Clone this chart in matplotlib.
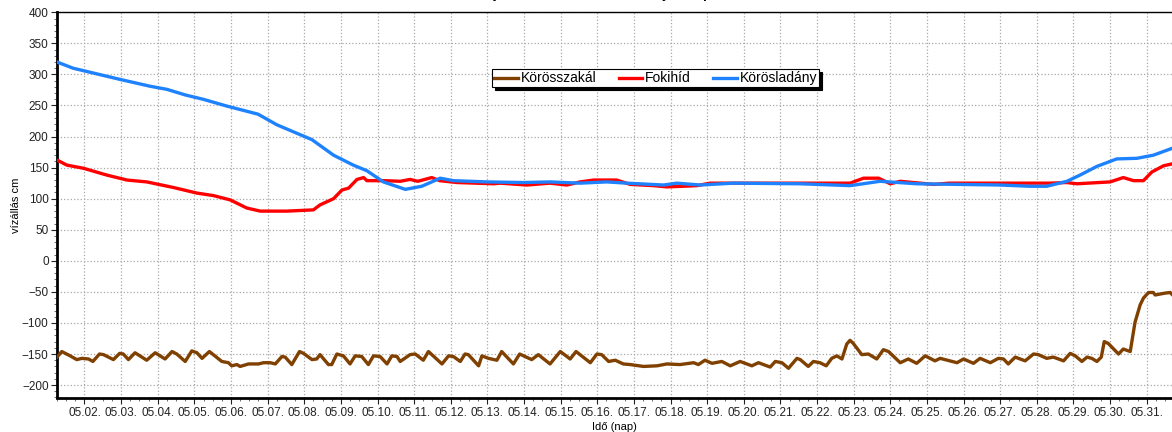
#!/usr/bin/env python3
"""Körös water levels, May: three gauges on a shared day axis."""

import matplotlib

matplotlib.use("Agg")
import matplotlib.pyplot as plt  # noqa: E402
from matplotlib.ticker import MultipleLocator  # noqa: E402

plt.rcParams["font.family"] = ["Liberation Sans", "DejaVu Sans"]

# time in days of May (1.0 = 05.01. 00:00)
szakal_t = [
    1.25, 1.38, 1.61, 1.79, 1.93, 2.11, 2.23, 2.41, 2.52, 2.79, 2.96, 3.06, 3.20, 3.38,
    3.70, 3.93, 4.20, 4.39, 4.52, 4.75, 4.93, 5.07, 5.21, 5.41, 5.75, 5.93, 6.02, 6.16,
    6.25, 6.48, 6.75, 6.89, 7.07, 7.21, 7.39, 7.48, 7.66, 7.87, 7.98, 8.21, 8.34, 8.43,
    8.66, 8.75, 8.89, 9.07, 9.25, 9.39, 9.57, 9.75, 9.89, 10.07, 10.26, 10.39, 10.53,
    10.62, 10.89, 11.03, 11.25, 11.39, 11.76, 11.94, 12.07, 12.26, 12.39, 12.48, 12.76,
    12.85, 13.03, 13.26, 13.39, 13.71, 13.88, 14.21, 14.39, 14.71, 14.99, 15.26, 15.42,
    15.81, 15.99, 16.12, 16.31, 16.49, 16.71, 16.90, 17.26, 17.63, 17.90, 18.26, 18.63,
    18.76, 18.94, 19.13, 19.40, 19.63, 19.90, 20.22, 20.40, 20.72, 20.86, 21.04, 21.22,
    21.45, 21.54, 21.76, 21.90, 22.08, 22.25, 22.40, 22.54, 22.68, 22.81, 22.90, 22.99,
    23.22, 23.40, 23.63, 23.81, 23.95, 24.27, 24.49, 24.72, 24.95, 25.22, 25.36, 25.82,
    26.00, 26.27, 26.45, 26.73, 26.95, 27.09, 27.22, 27.41, 27.68, 27.91, 28.04, 28.27,
    28.45, 28.73, 28.91, 29.05, 29.23, 29.37, 29.50, 29.64, 29.76, 29.84, 29.95, 30.23,
    30.36, 30.55, 30.68, 30.82, 30.91, 31.05, 31.18, 31.23, 31.50, 31.64, 31.69,
]
szakal_cm = [
    -155, -146, -153, -159, -157, -158, -162, -150, -151, -159, -149, -150, -159, -148,
    -160, -148, -158, -146, -150, -162, -145, -148, -157, -146, -162, -164, -169, -167,
    -170, -166, -166, -164, -164, -166, -154, -155, -167, -146, -149, -159, -158, -151,
    -167, -167, -150, -153, -166, -153, -154, -167, -153, -154, -166, -153, -154,
    -162, -151, -150, -160, -146, -166, -153, -154, -162, -150, -151, -169,
    -153, -157, -160, -146, -166, -150, -159, -151, -166, -146, -158, -146,
    -164, -150, -151, -162, -160, -166, -167, -170, -169, -166, -167, -164,
    -167, -160, -165, -162, -169, -162, -169, -164, -171, -162, -164, -173,
    -157, -159, -170, -162, -164, -169, -157, -153, -158, -134, -128, -133,
    -151, -150, -158, -143, -146, -164, -158, -165, -153, -161, -157, -164,
    -158, -165, -157, -164, -157, -158, -166, -155, -161, -150, -151, -157,
    -155, -161, -149, -153, -162, -155, -157, -162, -155, -130, -133, -150,
    -142, -146, -99, -71, -60, -51, -51, -55, -52, -51, -54,
]

fokihid_t = [
    1.25, 1.29, 1.52, 1.97, 2.61, 3.16, 3.70, 4.43, 5.07, 5.52, 5.98, 6.43, 6.80, 7.53,
    8.25, 8.43, 8.80, 9.03, 9.21, 9.44, 9.62, 9.71, 10.20, 10.62, 10.89, 11.10, 11.48,
    11.70, 12.17, 13.17, 13.35, 14.08, 14.71, 15.17, 15.53, 15.90, 16.53, 16.90, 17.53,
    17.90, 18.35, 18.72, 19.08, 21.54, 22.90, 23.27, 23.68, 24.00, 24.27, 24.63, 25.18,
    25.60, 28.36, 28.82, 29.09, 30.00, 30.36, 30.64, 30.91, 31.14, 31.46, 31.69,
]
fokihid_cm = [
    162, 161, 154, 149, 138, 130, 127, 118, 109, 105, 98, 85, 80, 80,
    82, 90, 100, 114, 117, 131, 134, 129, 129, 128, 131, 128, 134,
    129, 126, 124, 125, 122, 125, 122, 127, 130, 130, 123, 121,
    119, 120, 121, 125, 125, 125, 133, 133, 124, 128, 126, 123,
    125, 125, 126, 124, 127, 134, 129, 129, 143, 153, 156,
]

ladany_t = [
    1.25, 1.69, 2.97, 3.79, 4.25, 4.75, 5.24, 5.89, 6.74, 7.25, 8.21, 8.80, 9.34, 9.71,
    10.16, 10.76, 11.21, 11.71, 12.07, 12.99, 13.98, 14.71, 15.53, 16.26, 16.81, 17.81,
    18.17, 18.81, 19.72, 21.54, 22.90, 23.72, 24.72, 27.00, 27.80, 28.27, 28.82, 29.18,
    29.64, 30.18, 30.73, 31.18, 31.69,
]
ladany_cm = [
    320, 310, 292, 281, 276, 267, 260, 249, 236, 219, 195, 170, 154, 145,
    127, 115, 120, 133, 129, 127, 126, 127, 125, 127, 125, 122,
    125, 122, 125, 124, 121, 128, 124, 122, 120, 120, 128, 138,
    152, 164, 165, 170, 181,
]

tick_days = list(range(2, 32))
tick_labels = [f"05.{d:02d}." for d in tick_days]

fig = plt.figure(figsize=(11.72, 4.32), dpi=100)
ax = fig.add_axes((57 / 1172, 1 - 397.5 / 432, 1 - 57 / 1172, (397.5 - 12.3) / 432))

ax.plot(szakal_t, szakal_cm, color="#7f4000", lw=2.4, label="Körösszakál", zorder=3)
ax.plot(fokihid_t, fokihid_cm, color="#ff0000", lw=2.4, label="Fokihíd", zorder=3)
ax.plot(ladany_t, ladany_cm, color="#1e82ff", lw=2.4, label="Körösladány", zorder=4)

ax.set_xlim(1.25, 31.69)
ax.set_ylim(-220, 400)
ax.set_xticks(tick_days)
ax.set_xticklabels(tick_labels)
ax.xaxis.set_minor_locator(MultipleLocator(0.25))
ax.yaxis.set_major_locator(MultipleLocator(50))
ax.yaxis.set_minor_locator(MultipleLocator(10))
ax.tick_params(axis="both", which="major", direction="out", length=4, width=0.8,
               labelsize=8.5, colors="#222222", pad=2)
ax.tick_params(axis="both", which="minor", direction="out", length=2.5, width=0.6, colors="#555555")
ax.tick_params(axis="x", which="major", pad=3)

ax.grid(True, which="major", linestyle=":", color="#a8a8a8", linewidth=0.9)
for side in ("left", "bottom"):
    ax.spines[side].set_linewidth(2.0)
ax.spines["top"].set_linewidth(1.0)
ax.spines["right"].set_visible(False)

ax.set_ylabel("vízállás cm", fontsize=8, labelpad=1)
ax.set_xlabel("Idő (nap)", fontsize=8, labelpad=2)

leg = ax.legend(loc="upper center", bbox_to_anchor=(0.537, 0.852), ncol=3, fontsize=10,
                frameon=True, fancybox=False, edgecolor="black", framealpha=1,
                shadow={"color": "black", "alpha": 1}, handlelength=1.7, handletextpad=0.2,
                columnspacing=1.6, borderpad=0.15, borderaxespad=0)
leg.get_frame().set_linewidth(0.8)

fig.text(0.482, 1.004, "Körösök vízjárása: vízállás-idősor május napi", ha="center",
         va="baseline", fontsize=10, fontweight="bold")

fig.savefig("out.png", dpi=100)
